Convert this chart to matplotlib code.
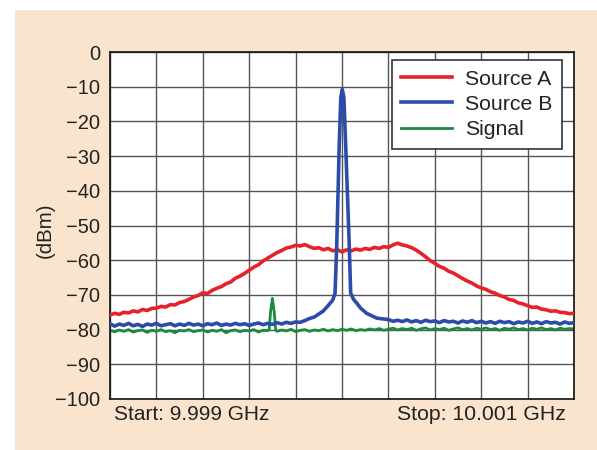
import numpy as np
import matplotlib
matplotlib.use("Agg")
import matplotlib.pyplot as plt
from matplotlib.patches import Rectangle

plt.rcParams['font.family'] = ['Liberation Sans', 'DejaVu Sans']

# x positions in grid divisions (0 = 9.999 GHz, 10 = 10.001 GHz)
x_a = [i / 10 for i in range(101)]
source_a = [
    -75.8, -75.3, -75.6, -75.0, -75.2, -74.6, -74.9, -74.2, -74.5, -73.9,
    -73.8, -73.3, -73.5, -72.8, -72.9, -72.2, -71.9, -71.3, -70.6, -70.2,
    -69.4, -69.6, -68.7, -68.1, -67.6, -66.8, -66.3, -65.2, -64.6, -63.8,
    -62.9, -62.0, -61.3, -60.2, -59.4, -58.6, -57.8, -57.2, -56.5, -56.2,
    -55.7, -55.9, -55.5, -56.1, -56.6, -56.4, -57.0, -56.6, -57.3, -57.0,
    -57.6, -57.0, -57.3, -56.8, -57.1, -56.6, -56.9, -56.3, -56.6, -56.1,
    -56.3, -55.6, -55.1, -55.6, -55.9, -56.4, -57.1, -58.0, -59.0, -60.1,
    -60.9, -61.8, -62.3, -63.2, -63.7, -64.5, -65.3, -66.0, -66.6, -67.4,
    -68.0, -68.4, -69.1, -69.5, -70.2, -70.6, -71.3, -71.6, -72.3, -72.6,
    -73.1, -73.6, -73.5, -74.1, -74.3, -74.7, -74.6, -75.0, -75.1, -75.4, -75.3,
]

x_b = ([i / 10 for i in range(48)] +
       [4.8, 4.85, 4.886, 4.94, 4.975, 5.006, 5.04, 5.08, 5.157, 5.187,
        5.25, 5.32, 5.4, 5.53, 5.64, 5.75, 5.87] +
       [i / 10 for i in range(60, 101)])
source_b = [
    -78.3, -79.0, -78.4, -78.8, -78.2, -78.9, -78.5, -79.1, -78.4, -78.7,
    -78.2, -78.9, -78.6, -78.3, -78.9, -78.4, -78.8, -78.2, -78.7, -78.4,
    -78.9, -78.3, -78.6, -78.1, -78.8, -78.4, -78.7, -78.2, -78.6, -78.3,
    -78.8, -78.4, -78.1, -78.6, -78.2, -78.5, -78.0, -78.4, -77.9, -78.2,
    -77.8, -77.9, -77.4, -76.8, -76.4, -75.5, -74.6, -73.1,
    -71.5, -69.5, -56.0, -27.0, -13.0, -10.8, -13.0, -27.0, -56.0, -69.5,
    -71.3, -72.4, -73.8, -75.3, -76.0, -76.7, -76.9,
    -77.1, -77.6, -77.3, -77.7, -77.2, -77.8, -77.4, -77.9, -77.3, -77.7,
    -77.5, -78.0, -77.4, -77.8, -77.6, -78.1, -77.5, -77.9, -77.4, -78.0,
    -77.6, -78.1, -77.7, -78.2, -77.6, -78.0, -77.7, -78.3, -77.8, -78.1,
    -77.6, -78.2, -77.8, -78.3, -77.7, -78.1, -77.9, -78.4, -77.8, -78.2, -78.0,
]

x_s = ([i / 10 for i in range(35)] + [3.43, 3.46, 3.5, 3.54, 3.57] +
       [i / 10 for i in range(36, 101)])
signal = [
    -80.2, -80.6, -80.1, -80.5, -80.0, -80.7, -80.3, -80.1, -80.8, -80.2,
    -80.5, -80.0, -80.6, -80.3, -80.9, -80.2, -80.4, -80.0, -80.6, -80.3,
    -80.1, -80.7, -80.2, -80.5, -80.0, -80.9, -80.3, -80.1, -80.6, -80.2,
    -80.4, -80.0, -80.7, -80.2, -80.3,
    -80.0, -75.0, -71.0, -75.0, -80.1,
    -80.5, -80.1, -80.4, -79.9, -80.6, -80.2, -80.0, -80.5, -80.1, -80.3,
    -79.9, -80.4, -80.0, -80.3, -79.9, -80.2, -79.8, -80.3, -80.0, -80.2,
    -79.8, -80.1, -79.7, -80.2, -79.9, -79.6, -80.1, -79.7, -80.0, -79.6,
    -80.2, -79.8, -79.5, -80.1, -79.7, -80.0, -79.6, -80.2, -79.8, -79.5,
    -80.0, -79.7, -80.1, -79.6, -79.9, -79.5, -80.0, -79.7, -80.2, -79.6,
    -79.9, -79.5, -80.0, -79.7, -80.1, -79.6, -79.9, -79.5, -80.0, -79.7,
    -80.1, -79.6, -79.9, -79.7, -79.8,
]

y_ticks = [0, -10, -20, -30, -40, -50, -60, -70, -80, -90, -100]
start_label = "Start: 9.999 GHz"
stop_label = "Stop: 10.001 GHz"

W, H = 597, 450
FS = 14.7
fig = plt.figure(figsize=(W / 100, H / 100), dpi=100)
fig.patch.set_facecolor('white')
bg = Rectangle((15 / W, 0), 1 - 15 / W, 1 - 10 / H, transform=fig.transFigure,
               facecolor='#fae4cd', edgecolor='none', zorder=-10)
fig.add_artist(bg)

ax = fig.add_axes([110 / W, 51 / H, 464 / W, 347 / H])
ax.set_zorder(1)
ax.set_facecolor('white')
ax.plot(x_a, source_a, color='#e8202a', lw=2.6, label='Source A', zorder=3)
ax.plot(x_b, source_b, color='#2b4ca8', lw=2.6, label='Source B', zorder=4)
ax.plot(x_s, signal, color='#1a8a3c', lw=2.0, label='Signal', zorder=2)

ax.set_xlim(0, 10)
ax.set_ylim(-100, 0)
ax.set_xticks(range(11))
ax.set_xticklabels([])
ax.set_yticks(y_ticks)
ax.set_yticklabels([str(t).replace('-', '\u2212') for t in y_ticks], fontsize=14.5, color='#222222')
ax.tick_params(length=0, pad=7)
ax.grid(True, color='#555555', lw=1.0)
ax.set_axisbelow(True)
for s in ax.spines.values():
    s.set_color('#111111')
    s.set_linewidth(1.2)

leg = ax.legend(loc='upper right', bbox_to_anchor=(0.974, 0.977), borderaxespad=0,
                fancybox=False, fontsize=15.3, handlelength=2.4, handletextpad=0.6,
                labelspacing=0.3, borderpad=0.45, framealpha=1)
leg.get_frame().set_edgecolor('#333333')
leg.get_frame().set_linewidth(1.2)
for t in leg.get_texts():
    t.set_color('#222222')

fig.text(45 / W, 1 - 230 / H, '(dBm)', rotation=90, ha='center', va='center', fontsize=FS, color='#222222')
fig.text(114 / W, 1 - 414 / H, start_label, ha='left', va='center', fontsize=15, color='#222222')
fig.text(566 / W, 1 - 414 / H, stop_label, ha='right', va='center', fontsize=15.3, color='#222222')

fig.savefig('out.png', dpi=100, facecolor=fig.get_facecolor())
